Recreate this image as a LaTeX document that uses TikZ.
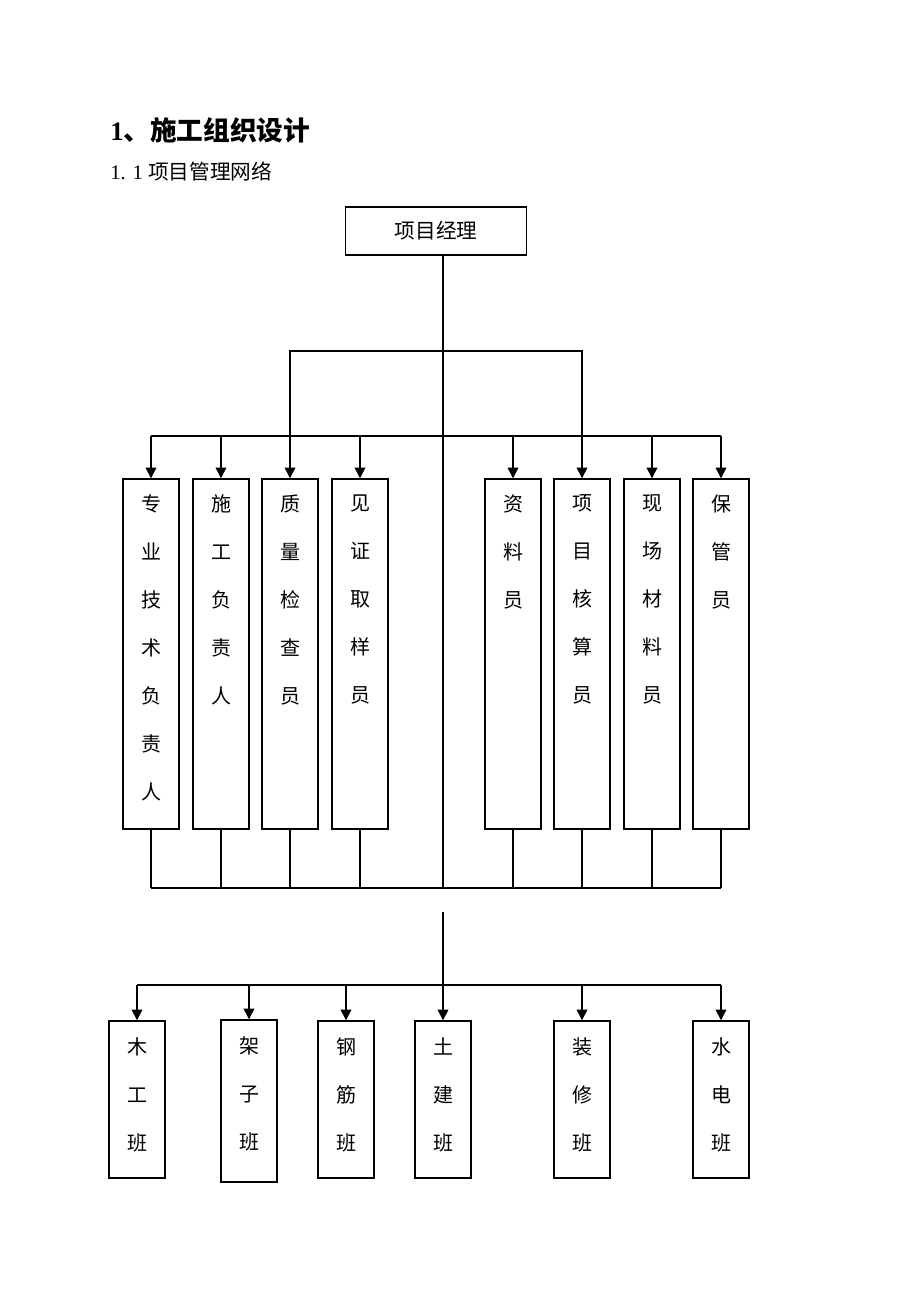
\documentclass[tikz,border=0pt]{standalone}
\usepackage{fontspec}
\setmainfont{Liberation Serif}
\newfontfamily\cjk{Noto Sans CJK SC}
\usetikzlibrary{arrows.meta,positioning}

\begin{document}
\begin{tikzpicture}[x=0.75pt,y=-0.75pt,
  post/.style={draw, line width=1.1pt, minimum width=42pt, inner sep=0pt},
  word/.style={font=\cjk\fontsize{15}{36}\selectfont, align=center, inner sep=0pt},
  link/.style={line width=1.1pt},
  arr/.style={link, -{Triangle[width=8pt,length=8pt]}}]
\useasboundingbox (0,0) rectangle (920,1302);
% headings
\node[anchor=west, inner sep=0pt] (title) at (110,130) {\fontsize{20}{24}\selectfont\bfseries 1{\cjk 、施工组织设计}};
\node[anchor=west, inner sep=0pt] (sub) at (110,172) {\fontsize{15.5}{18}\selectfont 1. 1 {\cjk 项目管理网络}};
% project manager
\node[post, minimum width=135.75pt, minimum height=36pt, font=\cjk\fontsize{15.5}{18}\selectfont] (mgr) at (436,231) {项目经理};
% staff
\foreach \n/\x/\t in {1/151/专\\业\\技\\术\\负\\责\\人, 2/221/施\\工\\负\\责\\人, 3/290/质\\量\\检\\查\\员, 4/360/见\\证\\取\\样\\员, 5/513/资\\料\\员, 6/582/项\\目\\核\\算\\员, 7/652/现\\场\\材\\料\\员, 8/721/保\\管\\员}
{
  \node[post, minimum height=262.5pt] (s\n) at (\x,654) {};
  \node[word, below=12pt of s\n.north] (w\n) {\t};
}
% teams
\foreach \n/\x/\y/\h/\t in {1/137/1099.5/117.75/木\\工\\班, 2/249/1101/121.5/架\\子\\班, 3/346/1099.5/117.75/钢\\筋\\班, 4/443/1099.5/117.75/土\\建\\班, 5/582/1099.5/117.75/装\\修\\班, 6/721/1099.5/117.75/水\\电\\班}
{
  \node[post, minimum height=\h pt] (t\n) at (\x,\y) {};
  \node[word, below=13pt of t\n.north] (v\n) {\t};
}
\coordinate (split) at (443,351);
\coordinate (bar) at (0,436);
\coordinate (join) at (443,888);
\coordinate (down) at (443,912);
\coordinate (tbar) at (0,985);
% connectors
\draw[link] (mgr.south -| join) -- (join);
\draw[arr] (split) -| (s3.north);
\draw[arr] (split) -| (s6.north);
\draw[link] (s1.north |- bar) -- (s8.north |- bar);
\foreach \n in {1,2,4,5,7,8}
  \draw[arr] (s\n.north |- bar) -- (s\n.north);
\foreach \n in {1,...,8}
  \draw[link] (s\n.south) -- (s\n.south |- join);
\draw[link] (s1.south |- join) -- (s8.south |- join);
\draw[arr] (down) -- (t4.north);
\draw[link] (t1.north |- tbar) -- (t6.north |- tbar);
\foreach \n in {1,2,3,5,6}
  \draw[arr] (t\n.north |- tbar) -- (t\n.north);
\end{tikzpicture}
\end{document}
